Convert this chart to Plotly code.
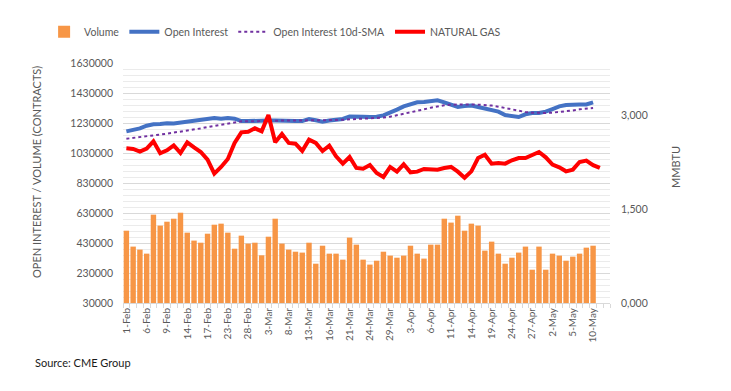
import plotly.graph_objects as go

dates = ["1-Feb", "2-Feb", "3-Feb", "6-Feb", "7-Feb", "8-Feb", "9-Feb", "10-Feb", "13-Feb", "14-Feb",
         "15-Feb", "16-Feb", "17-Feb", "21-Feb", "22-Feb", "23-Feb", "24-Feb", "27-Feb", "28-Feb",
         "1-Mar", "2-Mar", "3-Mar", "6-Mar", "7-Mar", "8-Mar", "9-Mar", "10-Mar", "13-Mar", "14-Mar",
         "15-Mar", "16-Mar", "17-Mar", "20-Mar", "21-Mar", "22-Mar", "23-Mar", "24-Mar", "27-Mar",
         "28-Mar", "29-Mar", "30-Mar", "31-Mar",
         "3-Apr", "4-Apr", "5-Apr", "6-Apr", "7-Apr", "10-Apr", "11-Apr", "12-Apr", "13-Apr", "14-Apr",
         "17-Apr", "18-Apr", "19-Apr", "20-Apr", "21-Apr", "24-Apr", "25-Apr", "26-Apr", "27-Apr", "28-Apr",
         "1-May", "2-May", "3-May", "4-May", "5-May", "8-May", "9-May", "10-May", "11-May", "12-May"]

volume = [512000, 406000, 386000, 359000, 619000, 546000, 572000, 592000, 632000, 499000,
          446000, 432000, 492000, 552000, 559000, 499000, 392000, 479000, 426000, 432000,
          348000, 472000, 592000, 426000, 386000, 372000, 366000, 432000, 292000, 412000,
          359000, 359000, 319000, 466000, 419000, 319000, 286000, 312000, 372000, 346000,
          332000, 346000, 412000, 359000, 326000, 419000, 419000, 592000, 566000, 612000,
          512000, 559000, 546000, 379000, 439000, 359000, 292000, 332000, 366000, 406000,
          252000, 406000, 252000, 359000, 346000, 312000, 339000, 359000, 399000, 412000]

open_interest = [1174000, 1183000, 1194000, 1212000, 1221000, 1223000, 1228000, 1226000, 1232000, 1237000,
                 1241000, 1246000, 1252000, 1263000, 1259000, 1263000, 1259000, 1243000, 1243000, 1246000,
                 1246000, 1246000, 1246000, 1243000, 1243000, 1243000, 1243000, 1257000, 1248000, 1239000,
                 1246000, 1250000, 1257000, 1274000, 1270000, 1272000, 1270000, 1272000, 1281000, 1297000,
                 1319000, 1341000, 1352000, 1368000, 1370000, 1374000, 1381000, 1368000, 1352000, 1337000,
                 1343000, 1346000, 1337000, 1328000, 1319000, 1306000, 1283000, 1274000, 1270000, 1288000,
                 1297000, 1297000, 1306000, 1323000, 1341000, 1350000, 1354000, 1354000, 1354000, 1368000]

oi_sma = [1125000, 1130000, 1134000, 1139000, 1146000, 1152000, 1159000, 1166000, 1172000, 1181000,
          1188000, 1194000, 1203000, 1210000, 1219000, 1226000, 1232000, 1241000, 1241000, 1243000,
          1243000, 1246000, 1246000, 1246000, 1246000, 1246000, 1246000, 1246000, 1248000, 1248000,
          1248000, 1250000, 1252000, 1254000, 1257000, 1257000, 1259000, 1261000, 1266000, 1272000,
          1281000, 1290000, 1299000, 1310000, 1321000, 1332000, 1341000, 1348000, 1352000, 1354000,
          1354000, 1354000, 1352000, 1350000, 1346000, 1339000, 1330000, 1319000, 1310000, 1303000,
          1299000, 1297000, 1297000, 1299000, 1303000, 1308000, 1314000, 1321000, 1326000, 1330000]

natural_gas = [2.468, 2.458, 2.415, 2.463, 2.580, 2.389, 2.437, 2.516, 2.394, 2.564,
               2.484, 2.410, 2.288, 2.064, 2.171, 2.298, 2.554, 2.724, 2.734, 2.788,
               2.740, 3.000, 2.564, 2.697, 2.554, 2.543, 2.426, 2.607, 2.554, 2.426,
               2.511, 2.341, 2.224, 2.330, 2.155, 2.144, 2.202, 2.075, 2.011, 2.171,
               2.096, 2.213, 2.085, 2.096, 2.139, 2.128, 2.128, 2.155, 2.171, 2.096,
               2.000, 2.101, 2.314, 2.367, 2.224, 2.234, 2.224, 2.277, 2.314, 2.314,
               2.362, 2.410, 2.325, 2.208, 2.165, 2.101, 2.128, 2.250, 2.272, 2.200,
               2.155]

left_ticks = [30000, 230000, 430000, 630000, 830000, 1030000, 1230000, 1430000, 1630000]
right_ticks = [0, 1.5, 3.0]
right_tick_text = ["0,000", "1,500", "3,000"]

FONT = "Lato"
GREY = "#595959"

pos = list(range(len(dates)))

fig = go.Figure()
fig.add_trace(go.Bar(x=pos[:len(volume)], y=volume, name="Volume",
                     marker=dict(color="#F79646", line=dict(width=0)), yaxis="y"))
fig.add_trace(go.Scatter(x=pos[:len(open_interest)], y=open_interest, name="Open Interest",
                         mode="lines", line=dict(color="#4472C4", width=4), yaxis="y"))
fig.add_trace(go.Scatter(x=pos[:len(oi_sma)], y=oi_sma, name="Open Interest 10d-SMA",
                         mode="lines", line=dict(color="#7030A0", width=2, dash="dot"), yaxis="y"))
fig.add_trace(go.Scatter(x=pos[:len(natural_gas)], y=natural_gas, name="NATURAL GAS",
                         mode="lines", line=dict(color="#FF0000", width=4), yaxis="y2"))

fig.update_layout(
    width=731, height=391,
    margin=dict(l=123, r=121, t=63, b=88),
    paper_bgcolor="white", plot_bgcolor="white",
    font=dict(family=FONT, color=GREY, size=11),
    bargap=0.2,
    showlegend=True,
    legend=dict(orientation="h", x=-0.162, y=1.13, xanchor="left", yanchor="middle",
                font=dict(size=10.5, color=GREY), bgcolor="rgba(0,0,0,0)",
                traceorder="normal", itemwidth=30),
    xaxis=dict(
        range=[-0.5, len(dates) - 0.5],
        tickmode="array", tickvals=pos[:70:3], ticktext=dates[:70:3],
        tickangle=-90, tickfont=dict(size=10, color=GREY),
        showgrid=False, zeroline=False,
        showline=True, linecolor="#D9D9D9", linewidth=1,
        ticks="",
        minor=dict(tickmode="array", tickvals=[i - 0.5 for i in range(len(dates) + 1)],
                   ticks="outside", ticklen=4, tickcolor="#D9D9D9", tickwidth=1, showgrid=False),
    ),
    yaxis=dict(
        range=[30000, 1630000],
        tickmode="array", tickvals=left_ticks, ticktext=[str(v) for v in left_ticks],
        tickfont=dict(size=10.5, color=GREY), ticklabelstandoff=9,
        showgrid=True, gridcolor="#D9D9D9", gridwidth=1,
        zeroline=False, showline=False, ticks="",
        minor=dict(tickmode="linear", tick0=30000, dtick=40000, showgrid=True,
                   gridcolor="#EBEBEB", gridwidth=1, ticks=""),
    ),
    yaxis2=dict(
        overlaying="y", side="right",
        range=[0, 3.83],
        tickmode="array", tickvals=right_ticks, ticktext=right_tick_text,
        tickfont=dict(size=10.5, color=GREY), ticklabelstandoff=10,
        showgrid=False, zeroline=False, showline=False, ticks="",
    ),
    annotations=[
        dict(text="OPEN INTEREST / VOLUME (CONTRACTS)", xref="paper", yref="paper",
             x=-0.1766, y=0.546, xanchor="center", yanchor="middle", textangle=-90,
             showarrow=False, font=dict(size=11, color=GREY, family=FONT)),
        dict(text="MMBTU", xref="paper", yref="paper",
             x=1.1355, y=0.567, xanchor="center", yanchor="middle", textangle=-90,
             showarrow=False, font=dict(size=11, color=GREY, family=FONT)),
        dict(text="Source: CME Group", xref="paper", yref="paper",
             x=-0.185, y=-0.246, xanchor="left", yanchor="middle", showarrow=False,
             font=dict(size=11, color="#1a1a1a", family=FONT)),
    ],
)

fig.write_html("out.html", config={"displayModeBar": False},
               post_script="document.body.style.margin='0px';")
